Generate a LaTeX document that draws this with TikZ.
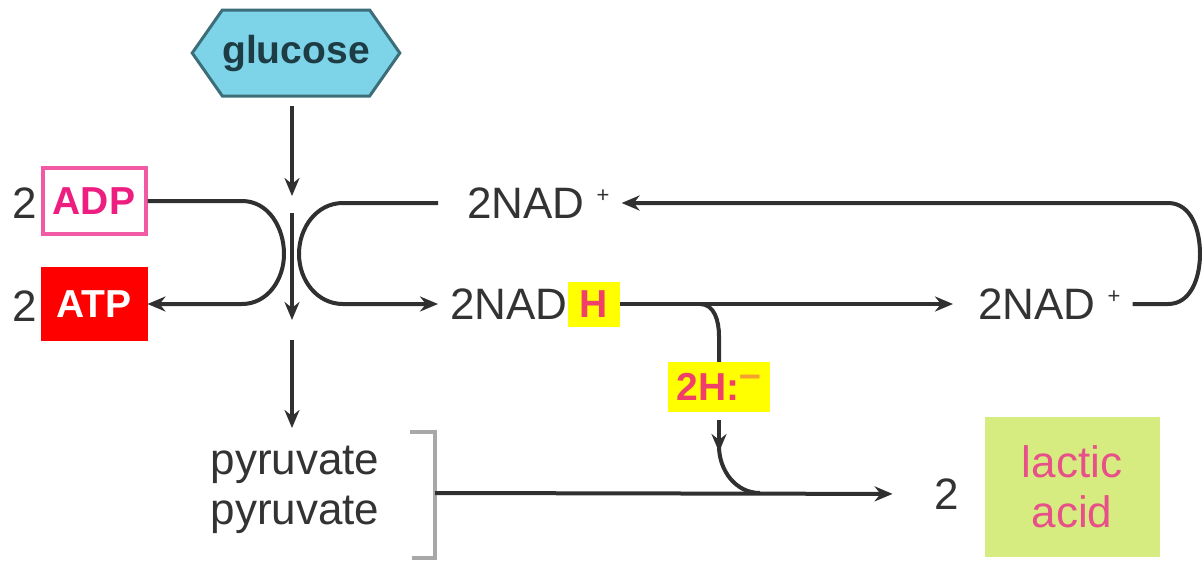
\documentclass[tikz,border=0pt]{standalone}
\usepackage{fontspec}
\setmainfont{Liberation Sans}
\usetikzlibrary{arrows.meta,shapes.symbols}

\definecolor{glucosefill}{HTML}{7DD3E8}
\definecolor{glucoseline}{HTML}{3C6E7A}
\definecolor{glucosetext}{HTML}{1E3C44}
\definecolor{adppink}{HTML}{F25AA5}
\definecolor{adptext}{HTML}{EE1D80}
\definecolor{atpred}{HTML}{FF0000}
\definecolor{hyellow}{HTML}{FFFF00}
\definecolor{htext}{HTML}{F0406A}
\definecolor{dashorange}{HTML}{F5A030}
\definecolor{lacticfill}{HTML}{D6EC80}
\definecolor{lactictext}{HTML}{E8508A}
\definecolor{linegray}{HTML}{303030}
\definecolor{textgray}{HTML}{333333}
\definecolor{bracketgray}{HTML}{A8A8A8}

\newcommand{\chemfont}{\fontsize{44}{50}\selectfont}
\newcommand{\tagfont}{\fontsize{39}{44}\selectfont\bfseries}
\newcommand{\glyfont}{\fontsize{39}{44}\selectfont\bfseries}
\newcommand{\plussup}{\hspace{12pt}\raisebox{16pt}{\fontsize{22}{22}\selectfont +}}

\begin{document}
\begin{tikzpicture}[x=1pt, y=-1pt, >={Stealth[length=18pt,width=15pt]}]
    \tikzstyle{flow}=[draw=linegray, line width=4pt]
    \tikzstyle{chem}=[inner xsep=12pt, inner ysep=0pt, font=\chemfont, text=textgray]
    \tikzstyle{numlabel}=[inner sep=0pt, font=\chemfont, text=textgray]
    \tikzstyle{energy}=[minimum width=103pt, inner sep=0pt, font=\tagfont, line width=4pt]
    \tikzstyle{hilite}=[fill=hyellow, inner sep=0pt, font=\tagfont, text=htext]

    \useasboundingbox (0,0) rectangle (1202,560);

    % glucose and the chain down to pyruvate
    \node[signal, signal to=east and west, signal pointer angle=110, draw=glucoseline, fill=glucosefill, line width=3pt, minimum width=200pt, minimum height=86pt, inner sep=0pt, font=\glyfont, text=glucosetext] (glucose) at (296,53) {glucose};
    \node[numlabel, align=center] (pyruvate) at (295,490) {pyruvate\\pyruvate};

    \coordinate (gluctip) at (292,196);
    \coordinate (crossin) at (292,213);
    \coordinate (crossout) at (292,320);
    \coordinate (pyrin) at (292,340);
    \coordinate (pyrtip) at (292,428);

    \draw[flow,->,shorten <=8pt] (glucose.south -| gluctip) -- (gluctip);
    \draw[flow,->] (crossin) -- (crossout);
    \draw[flow,->] (pyrin) -- (pyrtip);

    % ADP in, ATP out
    \node[numlabel] (twoadp) at (25,203) {2};
    \node[energy, draw=adppink, fill=white, text=adptext, minimum height=66pt] (adp) at (94,201) {ADP};
    \node[energy, draw=atpred, fill=atpred, text=white, minimum height=70pt] (atp) at (94,304) {ATP};
    \node[numlabel] (twoatp) at (25,306) {2};

    \draw[flow,->] (adp.east) -- (242,201) to[out=0,in=90] (284,254) to[out=-90,in=0] (242,304) -- (atp.east);

    % NAD+ / NADH cycle
    \node[chem, anchor=west] (nadtop) at (455,203) {2NAD\plussup};
    \node[chem, anchor=west] (nadh) at (438,304) {2NAD};
    \node[hilite, minimum width=52pt, minimum height=45pt] (hbox) at (594,304) {H};
    \node[chem, anchor=west] (nadbot) at (966,304) {2NAD\plussup};

    \draw[flow,->,shorten <=17pt] (nadtop.west) -- (343,203) to[out=180,in=90] (299,254) to[out=-90,in=180] (343,304) -- (nadh.west);
    \draw[flow,->,shorten >=13pt] (hbox.east) -- (nadbot.west);
    \draw[flow,->] (nadbot.east) -- (1168,304) to[out=0,in=-90] (1200,254) to[out=90,in=0] (1168,203) -- (nadtop.east);

    % hydride branch
    \coordinate (branch) at (700,304);
    \node[hilite, minimum width=102pt, minimum height=50pt] (hydride) at (719,387) {2H:\raisebox{13pt}{\color{dashorange}--}};
    \draw[flow] (branch) to[out=0,in=90] (719,336) -- (hydride.north);

    \coordinate (hydtip) at (719,452);
    \coordinate (merge) at (760,493);
    \draw[flow,->,shorten <=8pt] (hydride.south) -- (hydtip);
    \draw[flow] ([yshift=6pt]hydtip) to[out=-90,in=180] (merge);

    % pyruvate to lactic acid
    \draw[bracketgray, line width=4pt] (410,432) -- (435,432) -- (435,558) -- (412,558);
    \coordinate (brmid) at (435,493);
    \node[numlabel] (twolac) at (947,494) {2};
    \node[fill=lacticfill, minimum width=175pt, minimum height=140pt, align=center, font=\chemfont, text=lactictext] (lactic) at (1072,487) {lactic\\acid};
    \draw[flow,->,shorten >=42pt] (brmid) -- (twolac.west);
\end{tikzpicture}
\end{document}
